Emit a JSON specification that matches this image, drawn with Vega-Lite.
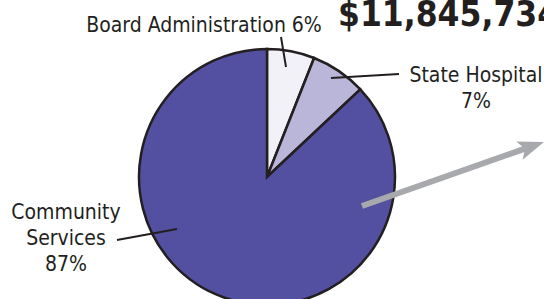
{
  "$schema": "https://vega.github.io/schema/vega-lite/v6.json",
  "width": 544,
  "height": 299,
  "autosize": {"type": "none"},
  "padding": 0,
  "background": "white",
  "config": {"view": {"stroke": null}},
  "layer": [
    {
      "data": {"values": [
        {"category": "Board Administration", "share": 6, "rank": 1},
        {"category": "State Hospital", "share": 7, "rank": 2},
        {"category": "Community Services", "share": 87, "rank": 3}
      ]},
      "mark": {"type": "arc", "outerRadius": 128, "stroke": "#231f20", "strokeWidth": 2.5},
      "encoding": {
        "theta": {"field": "share", "type": "quantitative", "stack": true},
        "order": {"field": "rank", "type": "quantitative"},
        "color": {
          "field": "category", "type": "nominal", "legend": null,
          "scale": {"domain": ["Board Administration", "State Hospital", "Community Services"], "range": ["#F2F1F8", "#B9B6D9", "#5450A1"]}
        },
        "x": {"datum": 267, "type": "quantitative", "scale": {"domain": [0, 544], "nice": false, "zero": false}, "axis": null},
        "y": {"datum": 177, "type": "quantitative", "scale": {"domain": [0, 299], "nice": false, "zero": false, "reverse": true}, "axis": null}
      }
    },
    {
      "data": {"values": [
        {"x": 281, "y": 37, "x2": 286, "y2": 67},
        {"x": 331, "y": 78, "x2": 399, "y2": 74},
        {"x": 117, "y": 240, "x2": 177, "y2": 229}
      ]},
      "mark": {"type": "rule", "color": "#231f20", "strokeWidth": 2},
      "encoding": {
        "x": {"field": "x", "type": "quantitative"},
        "y": {"field": "y", "type": "quantitative"},
        "x2": {"field": "x2"},
        "y2": {"field": "y2"}
      }
    },
    {
      "data": {"values": [
        {"x": 362, "y": 206, "x2": 525, "y2": 148.6}
      ]},
      "mark": {"type": "rule", "color": "#A7A9AC", "strokeWidth": 6, "strokeCap": "butt"},
      "encoding": {
        "x": {"field": "x", "type": "quantitative"},
        "y": {"field": "y", "type": "quantitative"},
        "x2": {"field": "x2"},
        "y2": {"field": "y2"}
      }
    },
    {
      "data": {"values": [
        {"x": 531.7, "y": 146.3}
      ]},
      "mark": {"type": "point", "shape": "M1,0L-1,-0.75L-0.55,0L-1,0.75Z", "size": 676, "angle": 340.6, "filled": true, "color": "#A7A9AC", "opacity": 1},
      "encoding": {
        "x": {"field": "x", "type": "quantitative"},
        "y": {"field": "y", "type": "quantitative"}
      }
    },
    {
      "data": {"values": [
        {"label": "Board Administration 6%", "x": 204, "y": 32},
        {"label": "State Hospital\n7%", "x": 476, "y": 82},
        {"label": "Community\nServices\n87%", "x": 66, "y": 219}
      ]},
      "mark": {"type": "text", "font": "DejaVu Sans Condensed", "fontSize": 21, "color": "#231f20", "align": "center", "baseline": "alphabetic", "lineBreak": "\n", "lineHeight": 26},
      "encoding": {
        "x": {"field": "x", "type": "quantitative"},
        "y": {"field": "y", "type": "quantitative"},
        "text": {"field": "label", "type": "nominal"}
      }
    },
    {
      "data": {"values": [
        {"label": "$11,845,734", "x": 338, "y": 26}
      ]},
      "mark": {"type": "text", "font": "DejaVu Sans Condensed", "fontSize": 35, "fontWeight": "bold", "color": "#231f20", "align": "left", "baseline": "alphabetic"},
      "encoding": {
        "x": {"field": "x", "type": "quantitative"},
        "y": {"field": "y", "type": "quantitative"},
        "text": {"field": "label", "type": "nominal"}
      }
    }
  ]
}
